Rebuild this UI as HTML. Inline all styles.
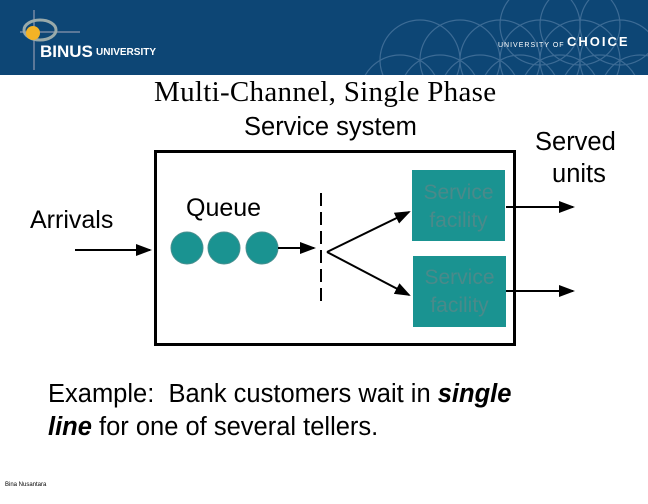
<!DOCTYPE html>
<html><head><style>
body{margin:0;width:648px;height:504px;background:#fff;position:relative;overflow:hidden;font-family:"Liberation Sans",sans-serif}
.hdr{position:absolute;left:0;top:0;width:648px;height:75px;background:#0d4675}
.t{position:absolute;white-space:nowrap}
</style></head><body>
<div class="hdr">
<svg width="648" height="75" style="position:absolute;left:0;top:0">
<g fill="none" stroke="#3c6b95" stroke-width="1.2">
<circle cx="400" cy="95" r="40"/><circle cx="440" cy="95" r="40"/><circle cx="480" cy="95" r="40"/><circle cx="520" cy="95" r="40"/><circle cx="560" cy="95" r="40"/><circle cx="600" cy="95" r="40"/><circle cx="640" cy="95" r="40"/>
<circle cx="420" cy="60" r="40"/><circle cx="460" cy="60" r="40"/><circle cx="500" cy="60" r="40"/><circle cx="540" cy="60" r="40"/><circle cx="580" cy="60" r="40"/><circle cx="620" cy="60" r="40"/>
<circle cx="540" cy="25" r="40"/><circle cx="580" cy="25" r="40"/><circle cx="620" cy="25" r="40"/>
</g>
<rect x="0" y="0" width="360" height="75" fill="#0d4675"/>
<line x1="20" y1="32" x2="80" y2="32" stroke="#aab" stroke-width="1"/>
<line x1="34" y1="10" x2="34" y2="70" stroke="#aab" stroke-width="1"/>
<ellipse cx="40" cy="30" rx="16" ry="10" fill="none" stroke="#9aa" stroke-width="3"/>
<circle cx="33" cy="33" r="7" fill="#f4b326"/>
<text x="40" y="57" font-family="Liberation Sans" font-weight="bold" font-size="17" fill="#fff">BINUS</text>
<text x="96" y="55" font-family="Liberation Sans" font-weight="bold" font-size="10" fill="#fff">UNIVERSITY</text>
<text x="498" y="47" font-family="Liberation Sans" font-size="7" fill="#fff" letter-spacing="1">UNIVERSITY OF</text>
<text x="567" y="46" font-family="Liberation Sans" font-weight="bold" font-size="13" fill="#fff" letter-spacing="2">CHOICE</text>
</svg>
</div>
<div class="t" style="left:154px;top:76px;font-family:'Liberation Serif',serif;font-size:29px;letter-spacing:0.3px">Multi-Channel, Single Phase</div>
<div class="t" style="left:244px;top:113px;font-size:25.5px">Service system</div>
<div class="t" style="left:535px;top:126px;font-size:25.5px;text-align:center;line-height:32px">Served<br>&nbsp;units</div>
<div class="t" style="left:30px;top:206px;font-size:25px">Arrivals</div>
<div class="t" style="left:186px;top:194px;font-size:25px">Queue</div>
<svg width="648" height="504" style="position:absolute;left:0;top:0">
<defs><marker id="a" markerWidth="8" markerHeight="6" refX="7" refY="3" orient="auto"><path d="M0,0L8,3L0,6z" fill="#000"/></marker></defs>
<rect x="155.5" y="151.5" width="359" height="193" fill="none" stroke="#000" stroke-width="3"/>
<rect x="412" y="170" width="93" height="71" fill="#1a9391"/>
<rect x="413" y="256" width="93" height="71" fill="#1a9391"/>
<circle cx="187" cy="248" r="16" fill="#1a9391" stroke="#4a9090"/>
<circle cx="224" cy="248" r="16" fill="#1a9391" stroke="#4a9090"/>
<circle cx="262" cy="248" r="16" fill="#1a9391" stroke="#4a9090"/>
<g stroke="#000" stroke-width="2" fill="none">
<line x1="75" y1="250" x2="150" y2="250" marker-end="url(#a)"/>
<line x1="278" y1="248" x2="314" y2="248" marker-end="url(#a)"/>
<line x1="321" y1="193" x2="321" y2="305" stroke-dasharray="13,6"/>
<line x1="327" y1="252" x2="409" y2="212" marker-end="url(#a)"/>
<line x1="327" y1="252" x2="409" y2="295" marker-end="url(#a)"/>
<line x1="506" y1="207" x2="573" y2="207" marker-end="url(#a)"/>
<line x1="506" y1="291" x2="573" y2="291" marker-end="url(#a)"/>
</g>
</svg>
<div class="t" style="left:412px;top:179px;width:93px;text-align:center;font-size:21px;color:#4a8a8a;line-height:28px">Service<br>facility</div>
<div class="t" style="left:413px;top:264px;width:93px;text-align:center;font-size:21px;color:#4a8a8a;line-height:28px">Service<br>facility</div>
<div class="t" style="left:48px;top:378px;font-size:25.5px;line-height:33px">Example:&nbsp; Bank customers wait in <b><i>single</i></b><br><b><i>line</i></b> for one of several tellers.</div>
<div class="t" style="left:5px;top:482px;font-size:6px">Bina Nusantara</div>
</body></html>
